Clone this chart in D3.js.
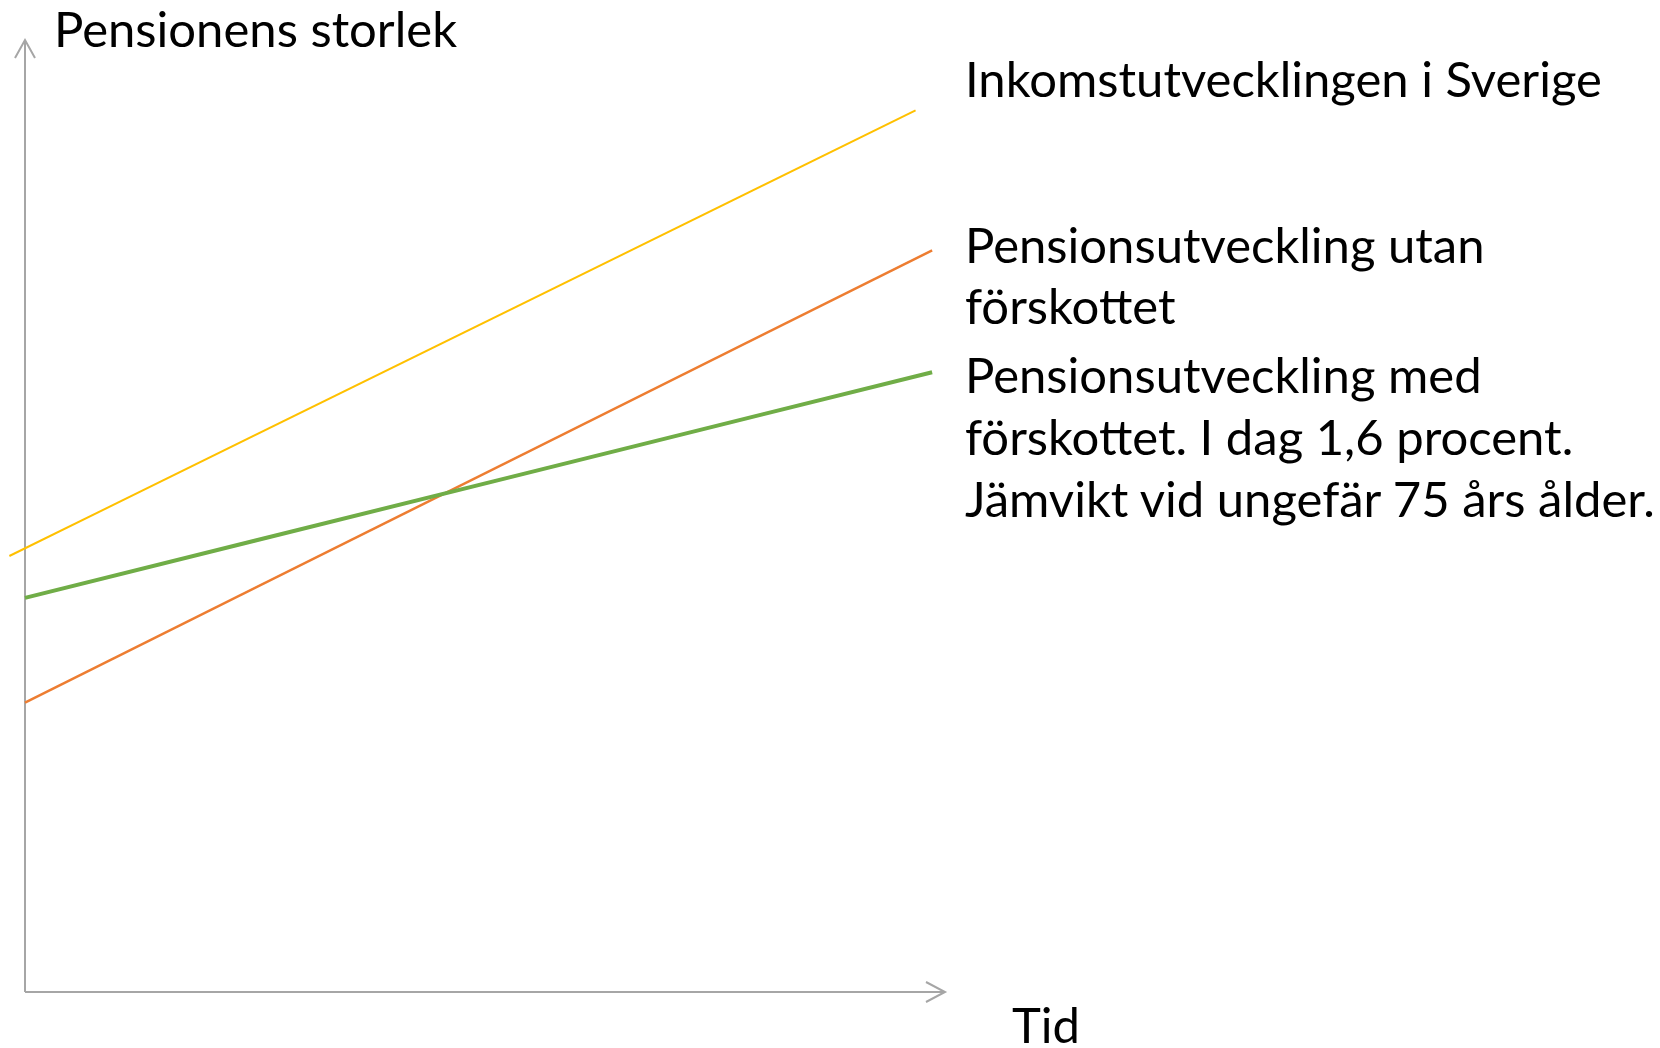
<!DOCTYPE html>
<html>
<head>
<meta charset="utf-8">
<script src="https://cdn.jsdelivr.net/npm/d3@7"></script>
<style>
  html, body { margin: 0; padding: 0; background: #fff; }
  svg { display: block; }
</style>
</head>
<body>
<svg id="chart"></svg>
<script>
// series (schematic, in relative units: time 0-100, size 0-100)
const series = ["inkomst", "utan", "med"];
const startTid = [-1.7, 0, 0];
const slutTid = [96.8, 98.6, 98.6];
const startVarde = [45.8, 30.4, 41.4];
const slutVarde = [92.6, 77.9, 65.1];
const colors = ["#ffc000", "#ed7d31", "#70ad47"];
const widths = [2, 2.5, 4];

// text
const yTitle = "Pensionens storlek";
const xTitle = "Tid";
const labelInkomst = ["Inkomstutvecklingen i Sverige"];
const labelUtan = ["Pensionsutveckling utan", "förskottet"];
const labelMed = ["Pensionsutveckling med", "förskottet. I dag 1,6 procent.", "Jämvikt vid ungefär 75 års ålder."];

const width = 1660, height = 1048;
const svg = d3.select("#chart").attr("width", width).attr("height", height);

const x = d3.scaleLinear().domain([0, 100]).range([25, 945]);
const y = d3.scaleLinear().domain([0, 100]).range([992, 40]);

const axisColor = "#a6a6a6";
const font = "Lato, 'Open Sans', sans-serif";

// axes with open arrowheads
const axes = svg.append("g").attr("stroke", axisColor).attr("stroke-width", 2).attr("fill", "none");
axes.append("line").attr("x1", x(0)).attr("y1", y(0)).attr("x2", x(0)).attr("y2", y(100));
axes.append("line").attr("x1", x(0)).attr("y1", y(0)).attr("x2", x(100)).attr("y2", y(0));
axes.append("path")
  .attr("d", `M${x(0) - 10},${y(100) + 18}L${x(0)},${y(100)}L${x(0) + 10},${y(100) + 18}`);
axes.append("path")
  .attr("d", `M${x(100) - 19},${y(0) - 10}L${x(100)},${y(0)}L${x(100) - 19},${y(0) + 10}`);

// lines
const line = d3.line().x(d => x(d[0])).y(d => y(d[1]));
svg.append("g")
  .selectAll("path")
  .data(series)
  .join("path")
    .attr("fill", "none")
    .attr("stroke", (d, i) => colors[i])
    .attr("stroke-width", (d, i) => widths[i])
    .attr("d", (d, i) => line([[startTid[i], startVarde[i]], [slutTid[i], slutVarde[i]]]));

// labels
function addText(lines, tx, ty, lh) {
  const t = svg.append("text")
    .attr("x", tx).attr("y", ty)
    .attr("font-family", font)
    .attr("font-size", 49)
    .attr("fill", "#000");
  t.selectAll("tspan")
    .data(lines)
    .join("tspan")
      .attr("x", tx)
      .attr("dy", (d, i) => i === 0 ? 0 : lh)
      .text(d => d);
}

addText([yTitle], 54, 47, 62);
addText(labelInkomst, 965, 97, 62);
addText(labelUtan, 965, 263, 61);
addText(labelMed, 965, 393, 62);
addText([xTitle], 1012, 1043, 62);
</script>
</body>
</html>
